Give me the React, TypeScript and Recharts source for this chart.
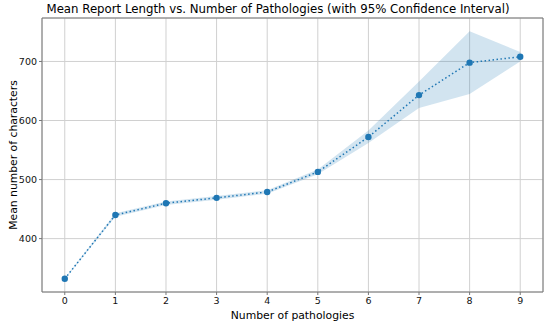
import React from 'react';
import { ComposedChart, Line, Area, XAxis, YAxis, CartesianGrid, ReferenceLine } from 'recharts';

const pathologies = [0, 1, 2, 3, 4, 5, 6, 7, 8, 9];
const meanLength = [332, 440, 460, 469, 479, 513, 572, 643, 698, 708];
const ciLower = [331, 437, 457, 466, 476, 509, 562, 621, 645, 700];
const ciUpper = [333, 443, 463, 472, 482, 517, 583, 666, 751, 716];
const xTicks = [0, 1, 2, 3, 4, 5, 6, 7, 8, 9];
const yTicks = [400, 500, 600, 700];

const X_DOMAIN: [number, number] = [-0.45, 9.45];
const Y_DOMAIN: [number, number] = [309.6, 773.6];

const data = pathologies.map((p, i) => ({
  x: p,
  mean: meanLength[i],
  ci: [ciLower[i], ciUpper[i]],
}));

const FONT = '"DejaVu Sans", sans-serif';
const BLUE = '#1f77b4';
const SPINE = '#777';

export default function App() {
  return (
    <div style={{ position: 'absolute', left: 0, top: 0, width: 550, height: 325, background: '#fff', fontFamily: FONT }}>
      <div style={{ position: 'absolute', left: 3, top: 1, width: 550, textAlign: 'center', fontSize: 11.75, color: '#000', lineHeight: '16px' }}>
        Mean Report Length vs. Number of Pathologies (with 95% Confidence Interval)
      </div>
      <ComposedChart width={550} height={325} data={data} margin={{ top: 17, right: 7, bottom: 0, left: 0 }}>
        <CartesianGrid stroke="#d0d0d0" strokeWidth={1} />
        <XAxis
          dataKey="x"
          type="number"
          domain={X_DOMAIN}
          ticks={xTicks}
          allowDataOverflow
          height={33}
          stroke={SPINE}
          tickLine={{ stroke: SPINE }}
          tickSize={3}
          tick={{ fill: '#111', fontSize: 9.5, fontFamily: FONT }}
          label={{ value: 'Number of pathologies', position: 'insideBottom', offset: 6, fill: '#000', fontSize: 10.8, fontFamily: FONT }}
        />
        <XAxis
          xAxisId="top"
          orientation="top"
          type="number"
          domain={X_DOMAIN}
          allowDataOverflow
          height={1}
          stroke={SPINE}
          tick={false}
          tickLine={false}
        />
        <YAxis
          type="number"
          domain={Y_DOMAIN}
          ticks={yTicks}
          allowDataOverflow
          width={42}
          stroke={SPINE}
          tickLine={{ stroke: SPINE }}
          tickSize={3}
          tick={{ fill: '#111', fontSize: 9.5, fontFamily: FONT }}
          label={{ value: 'Mean number of characters', angle: -90, position: 'insideLeft', offset: 13, style: { textAnchor: 'middle' }, fill: '#000', fontSize: 10.8, fontFamily: FONT }}
        />
        <ReferenceLine x={X_DOMAIN[1]} stroke={SPINE} strokeWidth={1} ifOverflow="visible" />
        <Area dataKey="ci" type="linear" stroke="none" fill={BLUE} fillOpacity={0.2} isAnimationActive={false} />
        <Line
          dataKey="mean"
          type="linear"
          stroke={BLUE}
          strokeWidth={1.5}
          strokeDasharray="1.5 2.5"
          dot={{ r: 3.2, fill: BLUE, stroke: 'none' }}
          activeDot={false}
          isAnimationActive={false}
        />
      </ComposedChart>
    </div>
  );
}
